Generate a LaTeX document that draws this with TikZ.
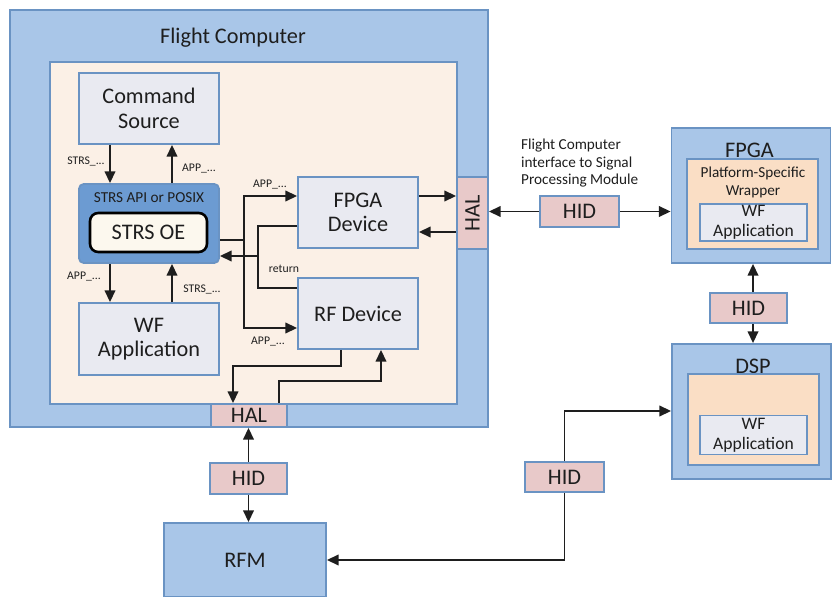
\documentclass[tikz,border=0pt]{standalone}
\usepackage{fontspec}
\setmainfont{Carlito}
\usepackage{graphicx}
\usetikzlibrary{arrows.meta,calc,positioning}
\definecolor{skyfill}{HTML}{A9C6E8}
\definecolor{skyline}{HTML}{6A93C3}
\definecolor{creamfill}{HTML}{FBF0E6}
\definecolor{greyfill}{HTML}{E9EAF1}
\definecolor{apifill}{HTML}{6C9BD2}
\definecolor{ivoryfill}{HTML}{FCF8EE}
\definecolor{pinkfill}{HTML}{E8C9C9}
\definecolor{peachfill}{HTML}{FADEC5}
\definecolor{inkcol}{HTML}{1E1E1E}
\tikzset{
  bigtxt/.style={font=\fontsize{19}{21}\selectfont, text=inkcol},
  midtxt/.style={font=\fontsize{15}{17}\selectfont, text=inkcol},
  smalltxt/.style={font=\fontsize{13}{15}\selectfont, text=inkcol},
  tinytxt/.style={font=\fontsize{10}{12}\selectfont, text=inkcol},
  shell/.style={draw=skyline, fill=skyfill, line width=1.5pt},
  devbox/.style={draw=skyline, fill=greyfill, line width=1.5pt, bigtxt, align=center},
  pinkbox/.style={draw=skyline, fill=pinkfill, line width=1.5pt, bigtxt, inner sep=0pt},
  wire/.style={line width=1.6pt, draw=inkcol},
  link/.style={line width=1.6pt, draw=inkcol, -{Triangle[length=10pt,width=9pt]}},
}
\begin{document}
\begin{tikzpicture}[x=0.03cm, y=-0.03cm]
	\useasboundingbox (0,0) rectangle (833,597);
	% flight computer
	\node[shell, minimum width=14.34cm, minimum height=12.51cm] (fc) at (249,218.5) {};
	\node[bigtxt] (fctitle) at (233,38) {Flight Computer};
	\node[draw=skyline, fill=creamfill, line width=1.5pt, minimum width=12.21cm, minimum height=10.26cm] (fcin) at (253.5,233) {};
	\node[devbox, minimum width=4.2cm, minimum height=2.13cm] (cmd) at (149,108.5) {Command\\Source};
	\node[draw=skyline, fill=apifill, line width=1.5pt, rounded corners=4pt, minimum width=4.2cm, minimum height=2.37cm] (api) at (149,223.5) {};
	\node[smalltxt] (apititle) at (149,198) {STRS API or POSIX};
	\node[draw=black, fill=ivoryfill, line width=2.2pt, rounded corners=7pt, bigtxt, minimum width=3.51cm, minimum height=1.17cm] (oe) at (148.5,232.5) {STRS OE};
	\node[devbox, minimum width=4.2cm, minimum height=2.16cm] (wf) at (149,339) {WF\\Application};
	\node[devbox, minimum width=3.6cm, minimum height=2.13cm] (fpgadev) at (358,212.5) {FPGA\\Device};
	\node[devbox, minimum width=3.6cm, minimum height=2.13cm] (rfdev) at (358,313.5) {RF Device};
	\node[pinkbox, minimum width=0.93cm, minimum height=2.16cm] (halR) at (472.5,213) {\rotatebox{90}{HAL}};
	\node[pinkbox, minimum width=2.28cm, minimum height=0.69cm] (halB) at (249,415.5) {HAL};

	% signal processing side
	\node[pinkbox, minimum width=2.37cm, minimum height=0.93cm] (hidM) at (579.5,211.5) {HID};
	\node[smalltxt, align=left, anchor=north west] (iflabel) at (517,135) {Flight Computer\\interface to Signal\\Processing Module};
	\node[shell, minimum width=4.77cm, minimum height=4.05cm] (fpga) at (751,195.5) {};
	\node[bigtxt] (fpgatitle) at (749.5,150) {FPGA};
	\node[draw=skyline, fill=peachfill, line width=1.5pt, minimum width=3.93cm, minimum height=2.7cm] (wrapA) at (752.5,204) {};
	\node[smalltxt, align=center] (wraptxt) at (753,182.5) {Platform-Specific\\Wrapper};
	\node[devbox, midtxt, inner sep=0pt, minimum width=3.21cm, minimum height=1.11cm] (wfA) at (753.5,222.5) {WF\\Application};
	\node[pinkbox, minimum width=2.31cm, minimum height=0.9cm] (hidV) at (748.5,308) {HID};
	\node[shell, minimum width=4.77cm, minimum height=4.05cm] (dsp) at (751.5,411.5) {};
	\node[bigtxt] (dsptitle) at (753,366) {DSP};
	\node[draw=skyline, fill=peachfill, line width=1.5pt, minimum width=3.93cm, minimum height=2.73cm] (wrapB) at (753.5,419.5) {};
	\node[devbox, midtxt, inner sep=0pt, minimum width=3.21cm, minimum height=1.17cm] (wfB) at (753.5,435) {WF\\Application};

	% radio side
	\node[pinkbox, minimum width=2.31cm, minimum height=0.93cm] (hidB) at (248.5,478.5) {HID};
	\node[shell, bigtxt, minimum width=4.86cm, minimum height=2.22cm] (rfm) at (245,560) {RFM};
	\node[pinkbox, minimum width=2.37cm, minimum height=0.9cm] (hidR) at (564.5,477) {HID};

	% calls between command source, API and waveform
	\draw[link] (110,0 |- cmd.south) -- (110,0 |- api.north);
	\draw[link] (172,0 |- api.north) -- (172,0 |- cmd.south);
	\draw[link] (110,0 |- api.south) -- (110,0 |- wf.north);
	\draw[link] (172,0 |- wf.north) -- (172,0 |- api.south);
	\node[tinytxt] (lbla) at (86,161) {STRS\_...};
	\node[tinytxt] (lblb) at (199,169) {APP\_...};
	\node[tinytxt] (lblc) at (84,277) {APP\_...};
	\node[tinytxt] (lbld) at (202,289) {STRS\_...};

	% calls to the devices
	\coordinate (fork) at (244,240);
	\draw[wire] (api.east |- fork) -- (fork);
	\draw[link] (fork) |- (fpgadev.west |- 0,196);
	\draw[link] (fork) |- (rfdev.west |- 0,328);
	\node[tinytxt] (lble) at (270,185) {APP\_...};
	\node[tinytxt] (lblf) at (268,342) {APP\_...};
	\coordinate (join) at (258,256);
	\draw[wire] (fpgadev.west |- 0,226) -| (join);
	\draw[wire] (rfdev.west |- 0,288) -| (join);
	\draw[link] (join) -- (api.east |- join);
	\node[tinytxt] (lblg) at (284,269) {return};

	% devices to HAL
	\draw[link] (fpgadev.east |- 0,196) -- (halR.west |- 0,196);
	\draw[link] (halR.west |- 0,232) -- (fpgadev.east |- 0,232);
	\draw[link] (341,0 |- rfdev.south) |- (233,366) -- (233,0 |- halB.north);
	\draw[link] (279,0 |- halB.north) |- (381,381) -- (381,0 |- rfdev.south);

	% hardware interfaces
	\draw[link] (hidM.west) -- (halR.east |- hidM.west);
	\draw[link] (hidM.east) -- (fpga.west |- hidM.east);
	\draw[link] (753,0 |- hidV.north) -- (753,0 |- fpga.south);
	\draw[link] (753,0 |- hidV.south) -- (753,0 |- dsp.north);
	\draw[link] (hidB.north) -- (hidB.north |- halB.south);
	\draw[link] (hidB.south) -- (hidB.south |- rfm.north);
	\draw[link] (hidR.north) |- (dsp.west |- 0,411);
	\draw[link] (hidR.south) |- (rfm.east |- 0,560);
\end{tikzpicture}
\end{document}
